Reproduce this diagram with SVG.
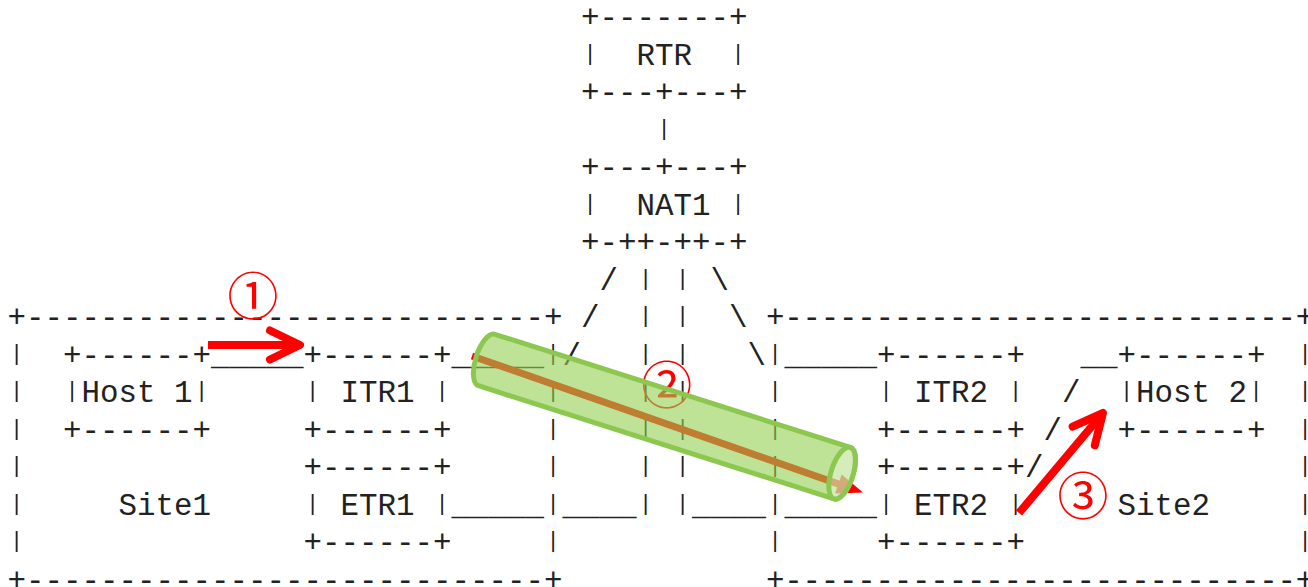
<svg xmlns="http://www.w3.org/2000/svg" width="1308" height="587" viewBox="0 0 1308 587" xml:space="preserve">
<style>
.t { font-family: "Liberation Mono", "DejaVu Sans Mono", monospace; font-size: 30.83px; fill: #222; white-space: pre; }
.v { font-family: "Liberation Mono", "DejaVu Sans Mono", monospace; font-size: 22px; fill: #222; text-anchor: middle; }
.num { font-family: "Noto Sans CJK SC", "Noto Sans", sans-serif; font-size: 51px; fill: #ff0000; text-anchor: middle; dominant-baseline: central; }
.arrow { stroke: #ff0000; fill: none; }
marker { overflow: visible; }
</style>
<defs>
<marker id="chev" markerUnits="userSpaceOnUse" orient="auto" viewBox="-45 -30 60 60" markerWidth="60" markerHeight="60" refX="0" refY="0">
<path d="M-30,-14.5 L0,0 L-30,14.5" fill="none" stroke="#ff0000" stroke-width="8" stroke-linecap="round" stroke-linejoin="round"/>
</marker>
<marker id="tri" markerUnits="userSpaceOnUse" orient="auto" viewBox="-45 -30 60 60" markerWidth="60" markerHeight="60" refX="-15" refY="0">
<path d="M-26,-10 L0,0 L-26,10 Z" fill="#ff0000"/>
</marker>
</defs>
<rect width="1308" height="587" fill="#ffffff"/>

<g id="site1">
<text class="t" x="7.45" y="327">+----------------------------+</text>
<text class="v" x="16.7" y="359.5">|</text><text class="v" x="553.2" y="359.5">|</text>
<text class="v" x="16.7" y="397">|</text><text class="v" x="553.2" y="397">|</text>
<text class="v" x="16.7" y="434.5">|</text><text class="v" x="553.2" y="434.5">|</text>
<text class="v" x="16.7" y="472">|</text><text class="v" x="553.2" y="472">|</text>
<text class="v" x="16.7" y="509.5">|</text><text class="v" x="553.2" y="509.5">|</text>
<text class="v" x="16.7" y="547">|</text><text class="v" x="553.2" y="547">|</text>
<text class="t" x="118.45" y="514.5">Site1</text>
<text class="t" x="7.45" y="589.5">+----------------------------+</text>
</g>

<g id="site2">
<text class="t" x="765.95" y="327" textLength="548.3" lengthAdjust="spacing">+----------------------------+</text>
<text class="v" x="775.2" y="359.5">|</text><text class="v" x="1305" y="359.5">|</text>
<text class="v" x="775.2" y="397">|</text><text class="v" x="1305" y="397">|</text>
<text class="v" x="775.2" y="434.5">|</text><text class="v" x="1305" y="434.5">|</text>
<text class="v" x="775.2" y="472">|</text><text class="v" x="1305" y="472">|</text>
<text class="v" x="775.2" y="509.5">|</text><text class="v" x="1305" y="509.5">|</text>
<text class="v" x="775.2" y="547">|</text><text class="v" x="1305" y="547">|</text>
<text class="t" x="1117.45" y="514.5">Site2</text>
<text class="t" x="765.95" y="589.5" textLength="548.3" lengthAdjust="spacing">+----------------------------+</text>
</g>

<g id="rtr">
<text class="t" x="580.95" y="27">+-------+</text>
<text class="v" x="590.2" y="59.5">|</text><text class="t" x="636.45" y="64.5">RTR</text><text class="v" x="738.2" y="59.5">|</text>
<text class="t" x="580.95" y="102">+---+---+</text>
</g>

<g id="nat1">
<text class="t" x="580.95" y="177">+---+---+</text>
<text class="v" x="590.2" y="209.5">|</text><text class="t" x="636.45" y="214.5">NAT1</text><text class="v" x="738.2" y="209.5">|</text>
<text class="t" x="580.95" y="252">+-++-++-+</text>
</g>

<g id="host1">
<text class="t" x="62.95" y="364.5">+------+</text>
<text class="v" x="72.2" y="397">|</text><text class="t" x="81.45" y="402">Host 1</text><text class="v" x="201.7" y="397">|</text>
<text class="t" x="62.95" y="439.5">+------+</text>
</g>

<g id="itr1">
<text class="t" x="303.45" y="364.5">+------+</text>
<text class="v" x="312.7" y="397">|</text><text class="t" x="340.45" y="402">ITR1</text><text class="v" x="442.2" y="397">|</text>
<text class="t" x="303.45" y="439.5">+------+</text>
</g>

<g id="etr1">
<text class="t" x="303.45" y="477">+------+</text>
<text class="v" x="312.7" y="509.5">|</text><text class="t" x="340.45" y="514.5">ETR1</text><text class="v" x="442.2" y="509.5">|</text>
<text class="t" x="303.45" y="552">+------+</text>
</g>

<g id="itr2">
<text class="t" x="876.95" y="364.5">+------+</text>
<text class="v" x="886.2" y="397">|</text><text class="t" x="913.95" y="402">ITR2</text><text class="v" x="1015.7" y="397">|</text>
<text class="t" x="876.95" y="439.5">+------+</text>
</g>

<g id="etr2">
<text class="t" x="876.95" y="477">+------+</text>
<text class="v" x="886.2" y="509.5">|</text><text class="t" x="913.95" y="514.5">ETR2</text><text class="v" x="1015.7" y="509.5">|</text>
<text class="t" x="876.95" y="552">+------+</text>
</g>

<g id="host2">
<text class="t" x="1117.45" y="364.5">+------+</text>
<text class="v" x="1126.7" y="397">|</text><text class="t" x="1135.95" y="402">Host 2</text><text class="v" x="1256.2" y="397">|</text>
<text class="t" x="1117.45" y="439.5">+------+</text>
</g>

<g id="connectors">
<text class="v" x="664.2" y="134.5">|</text>
<text class="t" x="599.45" y="289.5">/</text><text class="t" x="710.45" y="289.5">\</text>
<text class="t" x="580.95" y="327">/</text><text class="t" x="728.95" y="327">\</text>
<text class="t" x="562.45" y="364.5">/</text><text class="t" x="747.45" y="364.5">\</text>
<text class="v" x="645.7" y="284.5">|</text><text class="v" x="682.7" y="284.5">|</text>
<text class="v" x="645.7" y="322">|</text><text class="v" x="682.7" y="322">|</text>
<text class="v" x="645.7" y="359.5">|</text><text class="v" x="682.7" y="359.5">|</text>
<text class="v" x="645.7" y="397">|</text><text class="v" x="682.7" y="397">|</text>
<text class="v" x="645.7" y="434.5">|</text><text class="v" x="682.7" y="434.5">|</text>
<text class="v" x="645.7" y="472">|</text><text class="v" x="682.7" y="472">|</text>
<text class="v" x="645.7" y="509.5">|</text><text class="v" x="682.7" y="509.5">|</text>
<text class="t" x="562.45" y="514.5">____</text>
<text class="t" x="691.95" y="514.5">____</text>
<text class="t" x="210.95" y="364.5">_____</text>
<text class="t" x="451.45" y="364.5">_____</text>
<text class="t" x="451.45" y="514.5">_____</text>
<text class="t" x="784.45" y="364.5">_____</text>
<text class="t" x="784.45" y="514.5">_____</text>
<text class="t" x="1080.45" y="364.5">__</text>
<text class="t" x="1061.95" y="402">/</text>
<text class="t" x="1043.45" y="439.5">/</text>
<text class="t" x="1024.95" y="477">/</text>
</g>

<g id="annotations">
<text class="num" x="666.7" y="382">②</text>
<line class="arrow" x1="472" y1="356" x2="848.8" y2="487.6" stroke-width="7" marker-end="url(#tri)"/>
<g id="tunnel" transform="translate(486.7,360) rotate(17.66)">
<path d="M0,-27 L373,-27 A11,27 0 0 1 373,27 L0,27 A11,27 0 0 1 0,-27 Z" fill="#92d050" fill-opacity="0.6" stroke="#8cc850" stroke-width="5" stroke-linejoin="round"/>
<ellipse cx="373" cy="0" rx="11" ry="27" fill="#ffffff" fill-opacity="0.35" stroke="#8cc850" stroke-width="5"/>
</g>
<line class="arrow" x1="208" y1="345" x2="300" y2="345" stroke-width="8" marker-end="url(#chev)"/>
<line class="arrow" x1="1019" y1="513" x2="1103" y2="413" stroke-width="8" marker-end="url(#chev)"/>
<text class="num" x="253" y="293">①</text>
<text class="num" x="1083" y="493">③</text>
</g>
</svg>
